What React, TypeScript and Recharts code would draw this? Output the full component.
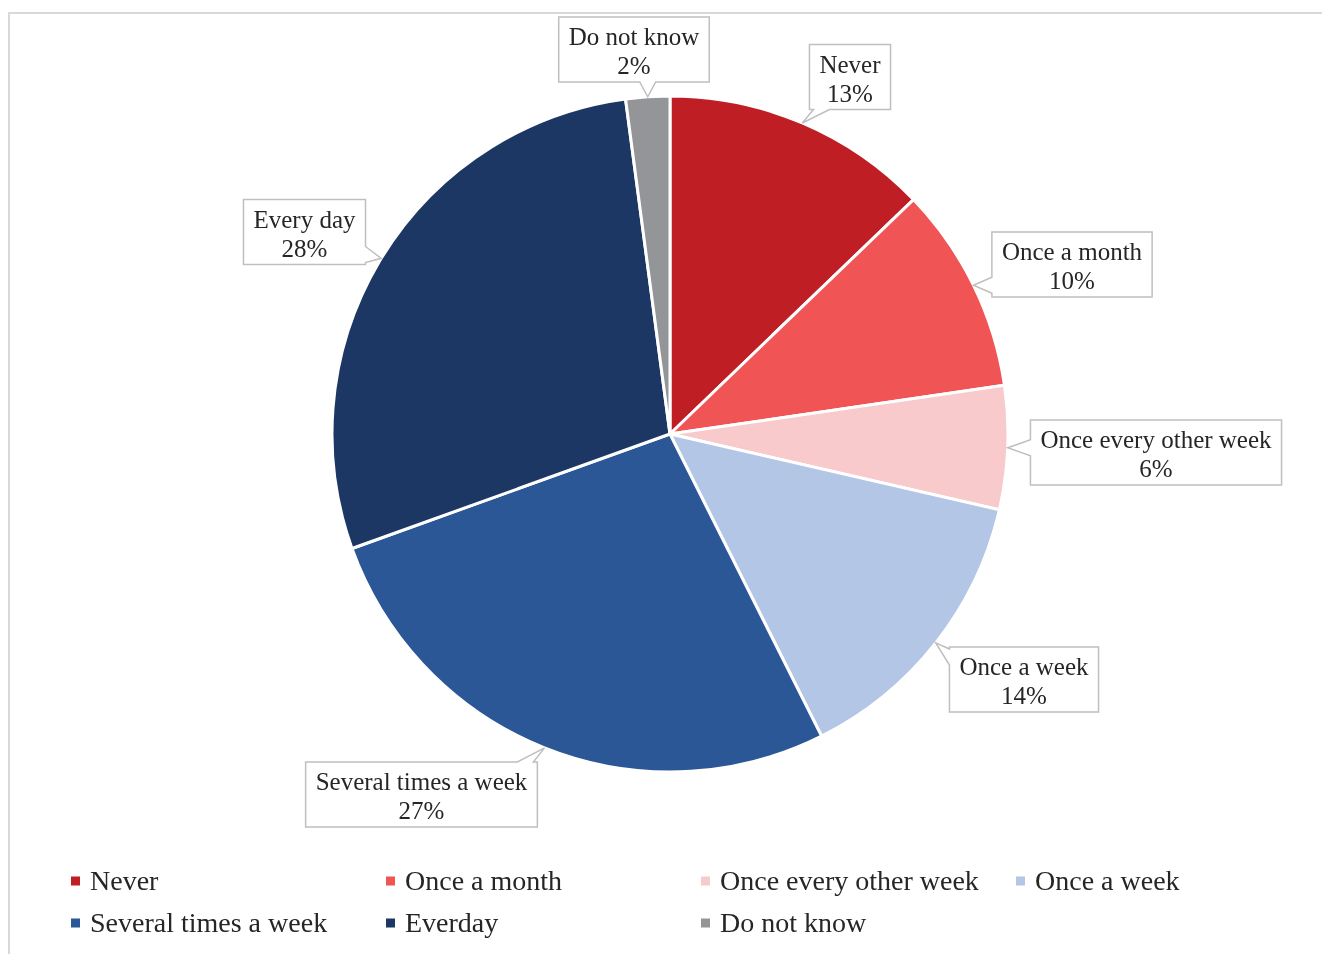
import React from 'react';
import { PieChart, Pie, Cell, Legend } from 'recharts';

// ---- data ----
const categories = ['Never', 'Once a month', 'Once every other week', 'Once a week', 'Several times a week', 'Every day', 'Do not know'];
const legendNames = ['Never', 'Once a month', 'Once every other week', 'Once a week', 'Several times a week', 'Everday', 'Do not know'];
const shares = [12.8, 9.9, 5.9, 14.0, 26.9, 28.4, 2.1];
const colors = ['#C01E25', '#F05455', '#F8CACB', '#B3C6E5', '#2B5797', '#1D3764', '#939598'];

// ---- layout (label box centre offsets from the pie centre) ----
const labelOffsets: [number, number][] = [
  [180, -357],
  [402, -169.5],
  [486, 18.5],
  [354, 245.5],
  [-248.5, 360.5],
  [-365.5, -202],
  [-36, -384.5],
];

const FONT = '"Liberation Serif", "Times New Roman", serif';
const LABEL_SIZE = 25;
const LEGEND_SIZE = 28;
const TEXT_COLOR = '#262626';

const data = categories.map((c, i) => ({ name: legendNames[i], label: c, value: shares[i] }));

let ctx: CanvasRenderingContext2D | null = null;
function measure(text: string, size: number): number {
  if (!ctx) ctx = document.createElement('canvas').getContext('2d');
  if (!ctx) return text.length * size * 0.45;
  ctx.font = `${size}px ${FONT}`;
  return ctx.measureText(text).width;
}

const clamp = (v: number, a: number, b: number) => Math.max(a, Math.min(b, v));

const renderLabel = (props: any) => {
  const { cx, cy, midAngle, outerRadius, index } = props;
  const RAD = Math.PI / 180;
  const tx = cx + outerRadius * Math.cos(-midAngle * RAD);
  const ty = cy + outerRadius * Math.sin(-midAngle * RAD);
  const [ox, oy] = labelOffsets[index];
  const bx = cx + ox;
  const by = cy + oy;
  const lines = [categories[index], `${Math.round(shares[index])}%`];
  const w = Math.max(...lines.map((l) => measure(l, LABEL_SIZE))) + 20;
  const h = 65;
  const L = bx - w / 2, R = bx + w / 2, T = by - h / 2, B = by + h / 2;
  const nx = (tx - bx) / (w / 2);
  const ny = (ty - by) / (h / 2);
  const hw = 8;
  let d = '';
  if (Math.abs(ny) >= Math.abs(nx)) {
    if (ny < 0) {
      const c = clamp(tx, L + 12, R - 12);
      d = `M${L},${T} L${c - hw},${T} L${tx},${ty} L${c + hw},${T} L${R},${T} L${R},${B} L${L},${B} Z`;
    } else {
      const c = clamp(tx, L + 12, R - 12);
      d = `M${L},${T} L${R},${T} L${R},${B} L${c + hw},${B} L${tx},${ty} L${c - hw},${B} L${L},${B} Z`;
    }
  } else if (nx > 0) {
    const c = clamp(ty, T + 10, B - 10);
    d = `M${L},${T} L${R},${T} L${R},${c - hw} L${tx},${ty} L${R},${c + hw} L${R},${B} L${L},${B} Z`;
  } else {
    const c = clamp(ty, T + 10, B - 10);
    d = `M${L},${T} L${R},${T} L${R},${B} L${L},${B} L${L},${c + hw} L${tx},${ty} L${L},${c - hw} Z`;
  }
  return (
    <g key={`lbl-${index}`}>
      <path d={d} fill="#ffffff" stroke="#bfbfbf" strokeWidth={1.5} />
      <text x={bx} y={by - 12.5 + LABEL_SIZE * 0.33} textAnchor="middle" fontSize={LABEL_SIZE} fontFamily={FONT} fill={TEXT_COLOR}>
        {lines[0]}
      </text>
      <text x={bx} y={by + 16.5 + LABEL_SIZE * 0.33} textAnchor="middle" fontSize={LABEL_SIZE} fontFamily={FONT} fill={TEXT_COLOR}>
        {lines[1]}
      </text>
    </g>
  );
};

const renderLegend = () => {
  const colX = [63, 378, 693, 1008];
  const rowY = [23, 65];
  return (
    <svg width={1314} height={80} style={{ display: 'block' }}>
      {legendNames.map((n, i) => {
        const x = colX[i % 4];
        const y = rowY[Math.floor(i / 4)];
        return (
          <g key={n}>
            <rect x={x} y={y - 4.5} width={9} height={9} fill={colors[i]} />
            <text x={x + 19} y={y + LEGEND_SIZE * 0.33} fontSize={LEGEND_SIZE} fontFamily={FONT} fill={TEXT_COLOR}>
              {n}
            </text>
          </g>
        );
      })}
    </svg>
  );
};

export default function App() {
  return (
    <div style={{ position: 'relative', width: 1314, height: 938, background: '#fff' }}>
      <div
        style={{
          position: 'fixed',
          left: 8,
          top: 12,
          right: -20,
          bottom: -20,
          border: '2px solid #d9d9d9',
          boxSizing: 'border-box',
        }}
      />
      <div style={{ position: 'absolute', left: 0, top: 0 }}>
        <PieChart width={1314} height={938} margin={{ top: 0, right: 0, bottom: 0, left: 0 }}>
          <Pie
            data={data}
            dataKey="value"
            nameKey="name"
            cx={662}
            cy={426}
            outerRadius={338}
            startAngle={90}
            endAngle={-270}
            stroke="#ffffff"
            strokeWidth={3}
            label={renderLabel}
            labelLine={false}
            isAnimationActive={false}
          >
            {data.map((d, i) => (
              <Cell key={d.name} fill={colors[i]} />
            ))}
          </Pie>
          <Legend
            content={renderLegend}
            wrapperStyle={{ position: 'absolute', left: 0, top: 850, width: 1314, height: 80 }}
          />
        </PieChart>
      </div>
    </div>
  );
}
